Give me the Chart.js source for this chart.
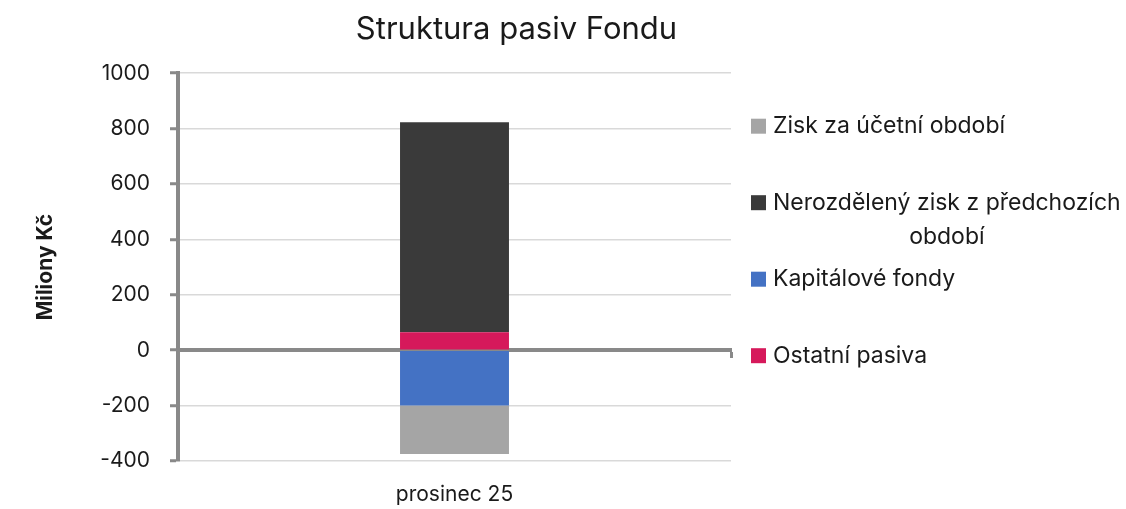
<!DOCTYPE html>
<html>
<head>
<meta charset="utf-8">
<script src="https://cdn.jsdelivr.net/npm/chart.js@4/dist/chart.umd.min.js"></script>
<style>
  html, body { margin: 0; padding: 0; background: #fff; }
  #wrap { width: 1126px; height: 509px; }
</style>
</head>
<body>
<div id="wrap"><canvas id="graf"></canvas></div>
<script>
// data (miliony Kč)
const kategorie = ['prosinec 25'];
const ostatniPasiva = [65];
const kapitaloveFondy = [-200];
const nerozdelenyZisk = [758];
const ziskObdobi = [-175];
const osaYMin = -400;
const osaYMax = 1000;
const osaYKrok = 200;

const sedaOsa = '#898989';
const mrizka = '#d9d9d9';
const pismo = 'Inter';

// legenda vpravo (Excel styl, zalamovani textu)
const legendaPlugin = {
    id: 'legendaVpravo',
    afterDraw(chart) {
        const ctx = chart.ctx;
        const area = chart.chartArea;
        const polozky = chart.data.datasets.map(d => ({ text: d.label, barva: d.backgroundColor })).reverse();
        const x0 = area.right + 20;
        const textX = x0 + 22;
        const maxW = 352;
        let y = area.top + 53;
        ctx.save();
        ctx.font = '23px ' + pismo;
        ctx.textBaseline = 'middle';
        polozky.forEach(p => {
            ctx.fillStyle = p.barva;
            ctx.fillRect(x0, y - 7.5, 15, 15);
            // zalomeni
            const slova = p.text.split(' ');
            const radky = [];
            let radek = '';
            slova.forEach(s => {
                const zkus = radek ? radek + ' ' + s : s;
                if (ctx.measureText(zkus).width > maxW && radek) {
                    radky.push(radek);
                    radek = s;
                } else {
                    radek = zkus;
                }
            });
            radky.push(radek);
            ctx.fillStyle = '#1a1a1a';
            ctx.textAlign = 'left';
            ctx.fillText(radky[0], textX, y);
            const stred = textX + ctx.measureText(radky[0]).width / 2;
            ctx.textAlign = 'center';
            for (let i = 1; i < radky.length; i++) {
                ctx.fillText(radky[i], stred, y + 34 * i);
            }
            y += 76.5;
        });
        ctx.restore();
    }
};

Chart.defaults.font.family = pismo;
Chart.defaults.color = '#1a1a1a';

new Chart(document.getElementById('graf'), {
    type: 'bar',
    data: {
        labels: kategorie,
        datasets: [
            { label: 'Ostatní pasiva', data: ostatniPasiva, backgroundColor: '#d6195b' },
            { label: 'Kapitálové fondy', data: kapitaloveFondy, backgroundColor: '#4472c4' },
            { label: 'Nerozdělený zisk z předchozích období', data: nerozdelenyZisk, backgroundColor: '#3a3a3a' },
            { label: 'Zisk za účetní období', data: ziskObdobi, backgroundColor: '#a5a5a5' }
        ]
    },
    options: {
        responsive: true,
        maintainAspectRatio: false,
        animation: false,
        layout: { padding: { left: 33, right: 126, top: 0, bottom: 2 } },
        datasets: { bar: { categoryPercentage: 1, barPercentage: 0.197 } },
        plugins: {
            legend: { display: false },
            tooltip: { enabled: false },
            title: {
                display: true,
                text: 'Struktura pasiv Fondu',
                font: { size: 31, weight: 'normal' },
                color: '#1a1a1a',
                padding: { top: 11, bottom: 25 }
            }
        },
        scales: {
            x: {
                stacked: true,
                grid: { display: false, drawTicks: false },
                border: { display: false },
                ticks: { font: { size: 21 }, padding: 21, color: '#1a1a1a' },
                afterFit: s => { s.height = 46; }
            },
            x2: {
                type: 'category',
                axis: 'x',
                labels: kategorie,
                position: { y: 0 },
                offset: true,
                grid: { display: true, drawOnChartArea: false, drawTicks: true, tickLength: 6, tickColor: sedaOsa, tickWidth: 3, offset: true },
                border: { display: true, width: 4, color: sedaOsa },
                ticks: { display: false }
            },
            y: {
                stacked: true,
                min: osaYMin,
                max: osaYMax,
                ticks: {
                    stepSize: osaYKrok,
                    font: { size: 21 },
                    padding: 20,
                    color: '#1a1a1a',
                    callback: v => String(v)
                },
                grid: {
                    color: c => (c.tick && c.tick.value === 0 ? 'rgba(0,0,0,0)' : mrizka),
                    lineWidth: 1.5,
                    tickLength: 8,
                    tickColor: sedaOsa,
                    tickWidth: 3
                },
                border: { display: true, width: 4, color: sedaOsa },
                title: {
                    display: true,
                    text: 'Miliony Kč',
                    font: { size: 21, weight: 'bold' },
                    color: '#1a1a1a',
                    padding: { top: 0, bottom: 0 }
                },
                afterFit: s => { s.width = 178 - 33; }
            },
            y2: {
                type: 'linear',
                position: 'right',
                grid: { display: false },
                border: { display: false },
                ticks: { display: false },
                afterFit: s => { s.width = 1126 - 126 - 731; }
            }
        }
    },
    plugins: [legendaPlugin]
});
</script>
</body>
</html>
